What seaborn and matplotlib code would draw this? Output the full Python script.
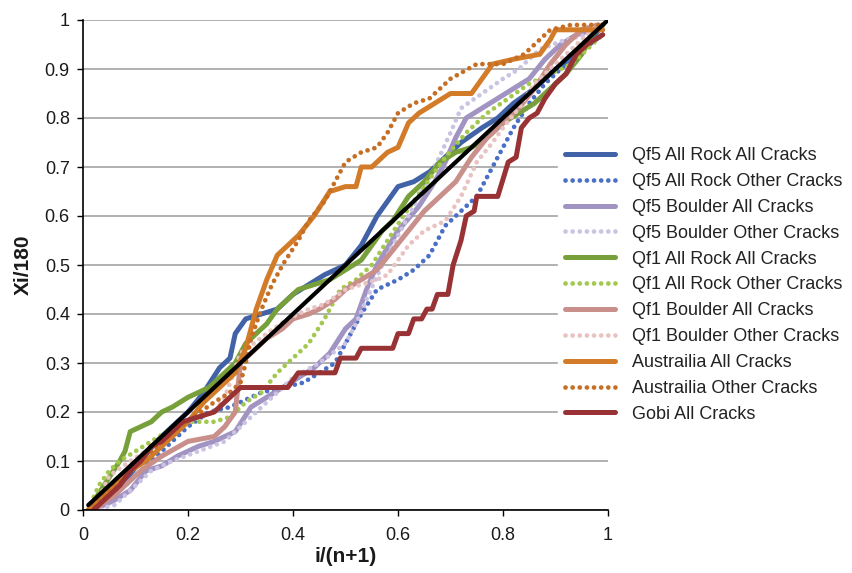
import numpy as np
import pandas as pd
import seaborn as sns
import matplotlib.pyplot as plt

# ---- data ----
qf5_rock_all_x = [0.02, 0.05, 0.08, 0.11, 0.14, 0.17, 0.2, 0.23, 0.26, 0.28, 0.29, 0.31, 0.34, 0.37, 0.4, 0.43,
                  0.46, 0.5, 0.53, 0.56, 0.58, 0.6, 0.63, 0.66, 0.69, 0.72, 0.76, 0.79, 0.82, 0.86, 0.9, 0.93, 0.96, 0.99]
qf5_rock_all_y = [0.0, 0.03, 0.06, 0.1, 0.14, 0.17, 0.2, 0.24, 0.29, 0.31, 0.36, 0.39, 0.4, 0.41, 0.44, 0.46,
                  0.48, 0.5, 0.54, 0.6, 0.63, 0.66, 0.67, 0.69, 0.72, 0.75, 0.78, 0.8, 0.83, 0.86, 0.9, 0.92, 0.95, 0.99]

qf5_rock_other_x = [0.02, 0.05, 0.08, 0.12, 0.16, 0.2, 0.24, 0.28, 0.3, 0.34, 0.38, 0.42, 0.45, 0.48, 0.5, 0.53,
                    0.56, 0.6, 0.63, 0.66, 0.69, 0.72, 0.75, 0.78, 0.8, 0.82, 0.85, 0.88, 0.91, 0.94, 0.99]
qf5_rock_other_y = [0.0, 0.02, 0.05, 0.09, 0.13, 0.17, 0.2, 0.21, 0.22, 0.24, 0.25, 0.26, 0.28, 0.3, 0.34, 0.4,
                    0.45, 0.47, 0.49, 0.52, 0.58, 0.61, 0.64, 0.7, 0.74, 0.78, 0.83, 0.87, 0.9, 0.93, 0.97]

qf5_boulder_all_x = [0.02, 0.06, 0.09, 0.12, 0.15, 0.18, 0.22, 0.25, 0.29, 0.32, 0.35, 0.38, 0.41, 0.44, 0.47,
                     0.5, 0.52, 0.54, 0.56, 0.6, 0.64, 0.67, 0.69, 0.71, 0.73, 0.76, 0.79, 0.82, 0.85, 0.88,
                     0.91, 0.94, 0.97, 0.99]
qf5_boulder_all_y = [0.0, 0.02, 0.04, 0.08, 0.09, 0.11, 0.13, 0.14, 0.16, 0.21, 0.23, 0.25, 0.27, 0.29, 0.32,
                     0.37, 0.39, 0.45, 0.5, 0.57, 0.62, 0.67, 0.71, 0.76, 0.8, 0.82, 0.84, 0.86, 0.88, 0.92,
                     0.95, 0.97, 0.98, 0.99]

qf5_boulder_other_x = [0.02, 0.06, 0.1, 0.13, 0.17, 0.22, 0.27, 0.29, 0.33, 0.37, 0.4, 0.45, 0.5, 0.52, 0.54,
                       0.57, 0.6, 0.63, 0.67, 0.7, 0.72, 0.76, 0.8, 0.83, 0.87, 0.92, 0.96, 0.99]
qf5_boulder_other_y = [0.0, 0.01, 0.05, 0.08, 0.1, 0.12, 0.14, 0.16, 0.2, 0.24, 0.27, 0.3, 0.34, 0.38, 0.43,
                       0.5, 0.56, 0.62, 0.7, 0.77, 0.82, 0.85, 0.88, 0.9, 0.94, 0.96, 0.97, 0.99]

qf1_rock_all_x = [0.01, 0.04, 0.07, 0.08, 0.09, 0.11, 0.13, 0.15, 0.17, 0.2, 0.22, 0.24, 0.27, 0.29, 0.31, 0.33,
                  0.35, 0.37, 0.39, 0.41, 0.44, 0.47, 0.5, 0.53, 0.55, 0.57, 0.59, 0.62, 0.65, 0.68, 0.71, 0.74,
                  0.77, 0.8, 0.83, 0.86, 0.89, 0.92, 0.95, 0.97, 0.99]
qf1_rock_all_y = [0.0, 0.05, 0.1, 0.12, 0.16, 0.17, 0.18, 0.2, 0.21, 0.23, 0.24, 0.25, 0.28, 0.3, 0.34, 0.36,
                  0.38, 0.41, 0.43, 0.45, 0.46, 0.47, 0.49, 0.51, 0.54, 0.57, 0.59, 0.64, 0.67, 0.71, 0.73, 0.74,
                  0.76, 0.79, 0.81, 0.83, 0.86, 0.89, 0.93, 0.97, 0.99]

qf1_rock_other_x = [0.01, 0.03, 0.05, 0.07, 0.1, 0.13, 0.16, 0.19, 0.22, 0.25, 0.28, 0.31, 0.34, 0.37, 0.4, 0.43,
                    0.46, 0.49, 0.52, 0.55, 0.58, 0.61, 0.65, 0.69, 0.73, 0.77, 0.81, 0.85, 0.89, 0.93, 0.96, 0.99]
qf1_rock_other_y = [0.0, 0.05, 0.08, 0.1, 0.12, 0.14, 0.16, 0.18, 0.18, 0.18, 0.19, 0.22, 0.24, 0.28, 0.31, 0.34,
                    0.39, 0.45, 0.47, 0.5, 0.55, 0.6, 0.66, 0.72, 0.77, 0.81, 0.84, 0.87, 0.89, 0.91, 0.94, 0.97]

qf1_boulder_all_x = [0.02, 0.06, 0.09, 0.11, 0.15, 0.2, 0.25, 0.27, 0.29, 0.3, 0.32, 0.35, 0.38, 0.4, 0.43, 0.45,
                     0.48, 0.5, 0.53, 0.56, 0.59, 0.62, 0.65, 0.68, 0.71, 0.74, 0.77, 0.8, 0.83, 0.86, 0.89,
                     0.92, 0.95, 0.98]
qf1_boulder_all_y = [0.0, 0.03, 0.06, 0.08, 0.11, 0.14, 0.15, 0.17, 0.2, 0.3, 0.32, 0.35, 0.37, 0.39, 0.4, 0.41,
                     0.43, 0.45, 0.47, 0.49, 0.53, 0.57, 0.61, 0.64, 0.67, 0.72, 0.76, 0.79, 0.82, 0.86, 0.91,
                     0.95, 0.98, 0.99]

qf1_boulder_other_x = [0.02, 0.05, 0.09, 0.12, 0.15, 0.2, 0.25, 0.27, 0.3, 0.35, 0.39, 0.43, 0.46, 0.5, 0.53,
                       0.56, 0.58, 0.6, 0.62, 0.65, 0.69, 0.72, 0.75, 0.78, 0.8, 0.83, 0.86, 0.9, 0.94, 0.98]
qf1_boulder_other_y = [0.0, 0.07, 0.1, 0.12, 0.14, 0.18, 0.2, 0.23, 0.32, 0.36, 0.39, 0.41, 0.42, 0.45, 0.46,
                       0.47, 0.48, 0.51, 0.54, 0.57, 0.59, 0.64, 0.71, 0.75, 0.78, 0.82, 0.87, 0.91, 0.95, 0.99]

aus_all_x = [0.01, 0.05, 0.09, 0.12, 0.16, 0.2, 0.23, 0.26, 0.29, 0.31, 0.33, 0.35, 0.37, 0.39, 0.41, 0.44, 0.47,
             0.5, 0.52, 0.53, 0.55, 0.58, 0.6, 0.62, 0.64, 0.67, 0.7, 0.74, 0.76, 0.78, 0.82, 0.87, 0.89, 0.9,
             0.95, 0.99]
aus_all_y = [0.0, 0.04, 0.08, 0.1, 0.14, 0.18, 0.22, 0.25, 0.28, 0.33, 0.41, 0.47, 0.52, 0.54, 0.56, 0.6, 0.65,
             0.66, 0.66, 0.7, 0.7, 0.73, 0.74, 0.79, 0.81, 0.83, 0.85, 0.85, 0.88, 0.91, 0.92, 0.93, 0.96, 0.98,
             0.98, 0.98]

aus_other_x = [0.01, 0.05, 0.09, 0.13, 0.17, 0.21, 0.25, 0.28, 0.3, 0.31, 0.32, 0.34, 0.36, 0.38, 0.41, 0.43,
               0.46, 0.48, 0.5, 0.53, 0.56, 0.58, 0.6, 0.63, 0.66, 0.7, 0.75, 0.8, 0.84, 0.87, 0.89, 0.93, 0.99]
aus_other_y = [0.0, 0.04, 0.08, 0.12, 0.16, 0.19, 0.22, 0.24, 0.26, 0.3, 0.35, 0.41, 0.46, 0.5, 0.55, 0.59,
               0.63, 0.67, 0.71, 0.73, 0.74, 0.77, 0.81, 0.83, 0.84, 0.88, 0.91, 0.91, 0.93, 0.96, 0.98, 0.99, 0.99]

gobi_x = [0.02, 0.04, 0.07, 0.09, 0.11, 0.13, 0.15, 0.17, 0.19, 0.22, 0.25, 0.27, 0.29, 0.3, 0.39, 0.41, 0.48,
          0.49, 0.52, 0.53, 0.59, 0.6, 0.62, 0.63, 0.645, 0.655, 0.665, 0.675, 0.695, 0.7, 0.705, 0.72, 0.73,
          0.745, 0.75, 0.76, 0.79, 0.81, 0.825, 0.835, 0.85, 0.865, 0.88, 0.9, 0.92, 0.94, 0.96, 0.99]
gobi_y = [0.0, 0.02, 0.05, 0.08, 0.1, 0.13, 0.14, 0.16, 0.18, 0.19, 0.2, 0.22, 0.24, 0.25, 0.25, 0.28, 0.28,
          0.31, 0.31, 0.33, 0.33, 0.36, 0.36, 0.39, 0.39, 0.41, 0.41, 0.44, 0.44, 0.47, 0.5, 0.55, 0.6, 0.61,
          0.64, 0.64, 0.64, 0.71, 0.72, 0.78, 0.8, 0.81, 0.84, 0.87, 0.89, 0.93, 0.95, 0.97]

diag_x = [0.01, 1.0]
diag_y = [0.01, 1.0]

xticks = [0, 0.2, 0.4, 0.6, 0.8, 1.0]
xtick_labels = ["0", "0.2", "0.4", "0.6", "0.8", "1"]
yticks = [0, 0.1, 0.2, 0.3, 0.4, 0.5, 0.6, 0.7, 0.8, 0.9, 1.0]
ytick_labels = ["0", "0.1", "0.2", "0.3", "0.4", "0.5", "0.6", "0.7", "0.8", "0.9", "1"]

series = [
    ("Qf5 All Rock All Cracks", qf5_rock_all_x, qf5_rock_all_y, "#4262a8", "solid"),
    ("Qf5 All Rock Other Cracks", qf5_rock_other_x, qf5_rock_other_y, "#4a6fc6", "dot"),
    ("Qf5 Boulder All Cracks", qf5_boulder_all_x, qf5_boulder_all_y, "#a193c2", "solid"),
    ("Qf5 Boulder Other Cracks", qf5_boulder_other_x, qf5_boulder_other_y, "#cbc3e3", "dot"),
    ("Qf1 All Rock All Cracks", qf1_rock_all_x, qf1_rock_all_y, "#77a03a", "solid"),
    ("Qf1 All Rock Other Cracks", qf1_rock_other_x, qf1_rock_other_y, "#a2c84e", "dot"),
    ("Qf1 Boulder All Cracks", qf1_boulder_all_x, qf1_boulder_all_y, "#c98f8b", "solid"),
    ("Qf1 Boulder Other Cracks", qf1_boulder_other_x, qf1_boulder_other_y, "#e9c3c2", "dot"),
    ("Austrailia All Cracks", aus_all_x, aus_all_y, "#d27c2a", "solid"),
    ("Austrailia Other Cracks", aus_other_x, aus_other_y, "#c66f24", "dot"),
    ("Gobi All Cracks", gobi_x, gobi_y, "#983234", "solid"),
]

sns.set_theme(style="white")
plt.rcParams["font.family"] = ["Liberation Sans", "DejaVu Sans"]

fig = plt.figure(figsize=(8.53, 5.73), dpi=100)
ax = fig.add_axes([83 / 853, 1 - 510 / 573, 525 / 853, 490 / 573])

for name, xs, ys, col, style in series:
    df = pd.DataFrame({"x": xs, "y": ys})
    if style == "solid":
        sns.lineplot(data=df, x="x", y="y", ax=ax, color=col, lw=3.6, sort=False,
                     estimator=None, label=name, solid_capstyle="round", solid_joinstyle="round")
    else:
        sns.lineplot(data=df, x="x", y="y", ax=ax, color=col, lw=3.4, sort=False,
                     estimator=None, label=name, linestyle=(0, (0.01, 1.5)), dash_capstyle="round")

sns.lineplot(x=diag_x, y=diag_y, ax=ax, color="black", lw=3.0, label="_nolegend_",
             solid_capstyle="round")

ax.set_xlim(0, 1)
ax.set_ylim(0, 1)
ax.set_xticks(xticks)
ax.set_xticklabels(xtick_labels)
ax.set_yticks(yticks)
ax.set_yticklabels(ytick_labels)
ax.yaxis.grid(True, color="#a3a3a3", lw=1.2)
ax.xaxis.grid(False)
ax.set_axisbelow(True)
for side in ["top", "right"]:
    ax.spines[side].set_visible(False)
for side in ["left", "bottom"]:
    ax.spines[side].set_color("black")
    ax.spines[side].set_linewidth(1.2)
ax.tick_params(axis="x", bottom=True, direction="out", length=4, width=1, color="black",
               labelsize=13, pad=8, labelcolor="#1a1a1a")
ax.tick_params(axis="y", left=True, direction="out", length=4, width=1, color="black",
               labelsize=13, pad=5.5, labelcolor="#1a1a1a")
ax.set_xlabel("i/(n+1)", fontsize=15, fontweight="bold", color="#1a1a1a")
ax.set_ylabel("Xi/180", fontsize=15, fontweight="bold", color="#1a1a1a")
ax.xaxis.set_label_coords(0.5, -0.076)
ax.yaxis.set_label_coords(-0.095, 0.5)

leg = ax.legend(loc="upper left", bbox_to_anchor=(549 / 853, 1 - 131 / 573),
                bbox_transform=fig.transFigure, fontsize=13, frameon=True,
                facecolor="white", edgecolor="white", framealpha=1, fancybox=False,
                handlelength=2.77, handletextpad=0.9, labelspacing=0.49, borderpad=0.4)
for t in leg.get_texts():
    t.set_color("#222222")

fig.savefig("out.png", dpi=100)
